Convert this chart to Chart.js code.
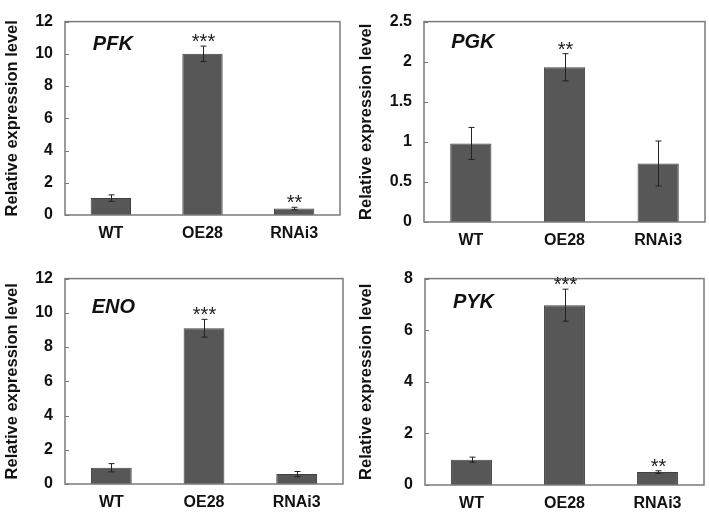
<!DOCTYPE html>
<html>
<head>
<meta charset="utf-8">
<script src="https://cdn.jsdelivr.net/npm/chart.js@4.4.0/dist/chart.umd.min.js"></script>
<style>
  body { margin: 0; background: #fff; }
  #wrap { position: relative; width: 709px; height: 514px; }
  canvas { position: absolute; }
</style>
</head>
<body>
<div id="wrap">
  <canvas id="c1" width="354" height="257" style="left:0;top:0"></canvas>
  <canvas id="c2" width="355" height="257" style="left:354px;top:0"></canvas>
  <canvas id="c3" width="354" height="257" style="left:0;top:257px"></canvas>
  <canvas id="c4" width="355" height="257" style="left:354px;top:257px"></canvas>
</div>
<script>
const categories = ["WT", "OE28", "RNAi3"];

const pfkMean = [1.05, 10.0, 0.4];
const pfkErr = [0.2, 0.48, 0.08];
const pfkSig = ["", "***", "**"];

const pgkMean = [0.98, 1.93, 0.73];
const pgkErr = [0.2, 0.17, 0.28];
const pgkSig = ["", "**", ""];

const enoMean = [0.95, 9.1, 0.58];
const enoErr = [0.24, 0.52, 0.15];
const enoSig = ["", "***", ""];

const pykMean = [0.98, 6.97, 0.5];
const pykErr = [0.1, 0.62, 0.05];
const pykSig = ["", "***", "**"];

const FONT = "'Liberation Sans', Arial, sans-serif";

// draws frame, inward y ticks, error bars, stars and gene name
const extras = {
  id: "extras",
  afterDatasetsDraw(chart, args, opts) {
    const ctx = chart.ctx;
    const area = chart.chartArea;
    const x = chart.scales.x, y = chart.scales.y;
    ctx.save();
    // frame
    ctx.strokeStyle = "#7a7a7a";
    ctx.lineWidth = 1.5;
    ctx.strokeRect(area.left, area.top, area.right - area.left, area.bottom - area.top);
    // inward ticks
    ctx.lineWidth = 1;
    y.ticks.forEach(t => {
      const py = Math.round(y.getPixelForValue(t.value)) + 0.5;
      ctx.beginPath();
      ctx.moveTo(area.left, py);
      ctx.lineTo(area.left + 4, py);
      ctx.stroke();
    });
    // error bars
    ctx.strokeStyle = "#222";
    ctx.lineWidth = 1;
    opts.mean.forEach((m, i) => {
      const px = Math.round(x.getPixelForValue(i)) + 0.5;
      const top = y.getPixelForValue(m + opts.err[i]);
      const bot = y.getPixelForValue(m - opts.err[i]);
      ctx.beginPath();
      ctx.moveTo(px, top); ctx.lineTo(px, bot);
      ctx.moveTo(px - 3, top); ctx.lineTo(px + 3, top);
      ctx.moveTo(px - 3, bot); ctx.lineTo(px + 3, bot);
      ctx.stroke();
      if (opts.sig[i]) {
        ctx.fillStyle = "#222";
        ctx.font = "20px " + FONT;
        ctx.textAlign = "center";
        ctx.textBaseline = "alphabetic";
        ctx.fillText(opts.sig[i], px, top + 2);
      }
    });
    // gene name
    ctx.fillStyle = "#111";
    ctx.font = "italic bold 20px " + FONT;
    ctx.textAlign = "center";
    ctx.textBaseline = "middle";
    ctx.fillText(opts.gene, x.getPixelForValue(0) + 2, area.top + opts.geneDy);
    ctx.restore();
  }
};

function makeChart(id, gene, mean, err, sig, yMax, yStep, box, geneDy) {
  const canvas = document.getElementById(id);
  const W = canvas.width, H = canvas.height;
  new Chart(canvas, {
    type: "bar",
    data: {
      labels: categories,
      datasets: [{
        data: mean,
        backgroundColor: "#575757",
        borderColor: "#404040",
        borderWidth: 1,
        barPercentage: 0.44,
        categoryPercentage: 1
      }]
    },
    options: {
      responsive: false,
      animation: false,
      layout: { padding: { left: 0, top: box[1], right: W - box[2], bottom: 0 } },
      plugins: {
        legend: { display: false },
        tooltip: { enabled: false },
        extras: { mean: mean, err: err, sig: sig, gene: gene, geneDy: geneDy }
      },
      scales: {
        x: {
          grid: { display: false, drawTicks: false },
          border: { display: false },
          ticks: { color: "#111", padding: 9, font: { family: FONT, size: 16, weight: "bold" } },
          afterFit(s) { s.height = H - box[3]; }
        },
        y: {
          min: 0,
          max: yMax,
          grid: { display: false, drawTicks: false },
          border: { display: false },
          ticks: {
            stepSize: yStep,
            color: "#111",
            padding: 12,
            font: { family: FONT, size: 16, weight: "bold" },
            callback: v => String(Math.round(v * 10) / 10)
          },
          title: {
            display: true,
            text: "Relative expression level",
            color: "#111",
            padding: { top: 3, bottom: 0 },
            font: { family: FONT, size: 16.5, weight: "bold" }
          },
          afterFit(s) { s.width = box[0]; }
        }
      }
    },
    plugins: [extras]
  });
}

makeChart("c1", "PFK", pfkMean, pfkErr, pfkSig, 12, 2, [65, 9, 340, 215], 23);
makeChart("c2", "PGK", pgkMean, pgkErr, pgkSig, 2.5, 0.5, [70, 14, 351, 222], 21);
makeChart("c3", "ENO", enoMean, enoErr, enoSig, 12, 2, [65, 19, 343, 227], 29);
makeChart("c4", "PYK", pykMean, pykErr, pykSig, 8, 2, [71, 17, 350, 228], 24);
</script>
</body>
</html>
